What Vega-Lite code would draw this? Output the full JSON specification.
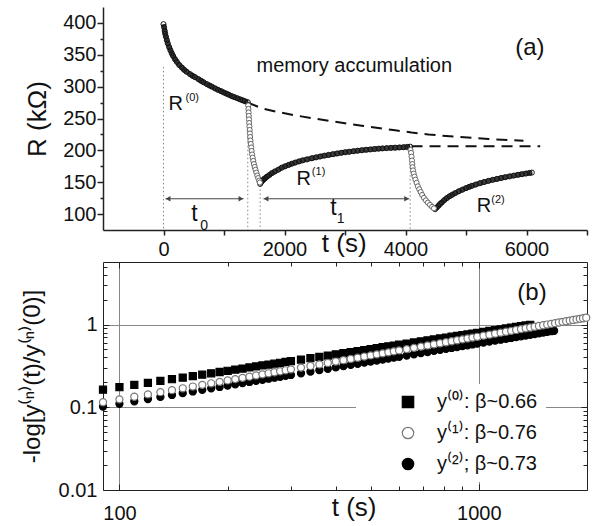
{
"$schema":"https://vega.github.io/schema/vega-lite/v6.json",
"background":"white",
"padding":{"left":20,"top":7,"right":0,"bottom":0},
"spacing":32,
"bounds":"flush",
"resolve":{"scale":{"shape":"independent","fill":"independent","stroke":"independent"},"legend":{"shape":"independent","fill":"independent","stroke":"independent"}},
"config":{
 "font":"Liberation Sans",
 "view":{"stroke":null},
 "axis":{"labelFont":"Liberation Sans","labelFontSize":20,"labelColor":"#111","domainColor":"#222","tickColor":"#222","titleFont":"Liberation Sans","titleColor":"#111","titleFontWeight":"normal","grid":false,"labelFlush":false,"labelOverlap":false},
 "text":{"font":"Liberation Sans","color":"#111"}
},
"datasets":{
 "curve":[
  {"t":0,"R":398,"seg":"0"},{"t":10,"R":393,"seg":"0"},{"t":20,"R":387.5,"seg":"0"},{"t":28,"R":383,"seg":"0"},{"t":40,"R":378.5,"seg":"0"},{"t":55,"R":373,"seg":"0"},{"t":70,"R":368,"seg":"0"},{"t":94,"R":362,"seg":"0"},{"t":115,"R":357,"seg":"0"},{"t":138,"R":352,"seg":"0"},{"t":160,"R":348,"seg":"0"},{"t":190,"R":343,"seg":"0"},{"t":220,"R":339,"seg":"0"},{"t":260,"R":334,"seg":"0"},{"t":303,"R":330,"seg":"0"},{"t":340,"R":326.5,"seg":"0"},{"t":380,"R":323.5,"seg":"0"},{"t":441,"R":319.5,"seg":"0"},{"t":480,"R":317,"seg":"0"},{"t":520,"R":315,"seg":"0"},{"t":579,"R":311.7,"seg":"0"},{"t":620,"R":309.2,"seg":"0"},{"t":660,"R":307,"seg":"0"},{"t":716,"R":304,"seg":"0"},{"t":760,"R":301.8,"seg":"0"},{"t":800,"R":300,"seg":"0"},{"t":854,"R":297.2,"seg":"0"},{"t":900,"R":295,"seg":"0"},{"t":950,"R":293,"seg":"0"},{"t":992,"R":291,"seg":"0"},{"t":1040,"R":289,"seg":"0"},{"t":1080,"R":287.3,"seg":"0"},{"t":1129,"R":285.1,"seg":"0"},{"t":1170,"R":283.6,"seg":"0"},{"t":1220,"R":281.8,"seg":"0"},{"t":1267,"R":280,"seg":"0"},{"t":1310,"R":278.5,"seg":"0"},{"t":1350,"R":277,"seg":"0"},{"t":1393,"R":275.5,"seg":"0"},
  {"t":1598,"R":147.4,"seg":"1"},{"t":1610,"R":149.5,"seg":"1"},{"t":1625,"R":151.5,"seg":"1"},{"t":1640,"R":153,"seg":"1"},{"t":1660,"R":154.8,"seg":"1"},{"t":1680,"R":156.3,"seg":"1"},{"t":1710,"R":158.7,"seg":"1"},{"t":1750,"R":161.3,"seg":"1"},{"t":1791,"R":164.2,"seg":"1"},{"t":1840,"R":166.8,"seg":"1"},{"t":1900,"R":169.8,"seg":"1"},{"t":1956,"R":172.9,"seg":"1"},{"t":2010,"R":175,"seg":"1"},{"t":2070,"R":177.2,"seg":"1"},{"t":2120,"R":179,"seg":"1"},{"t":2176,"R":180.8,"seg":"1"},{"t":2240,"R":182.6,"seg":"1"},{"t":2300,"R":184.3,"seg":"1"},{"t":2370,"R":185.8,"seg":"1"},{"t":2452,"R":187.6,"seg":"1"},{"t":2520,"R":189,"seg":"1"},{"t":2590,"R":190.4,"seg":"1"},{"t":2660,"R":191.7,"seg":"1"},{"t":2727,"R":192.8,"seg":"1"},{"t":2800,"R":194,"seg":"1"},{"t":2870,"R":195.1,"seg":"1"},{"t":2940,"R":196.1,"seg":"1"},{"t":3003,"R":197,"seg":"1"},{"t":3070,"R":197.8,"seg":"1"},{"t":3140,"R":198.7,"seg":"1"},{"t":3210,"R":199.5,"seg":"1"},{"t":3278,"R":200.2,"seg":"1"},{"t":3350,"R":200.9,"seg":"1"},{"t":3420,"R":201.5,"seg":"1"},{"t":3490,"R":202.1,"seg":"1"},{"t":3554,"R":202.7,"seg":"1"},{"t":3620,"R":203.1,"seg":"1"},{"t":3690,"R":203.5,"seg":"1"},{"t":3760,"R":203.9,"seg":"1"},{"t":3829,"R":204.2,"seg":"1"},{"t":3900,"R":204.6,"seg":"1"},{"t":3970,"R":205,"seg":"1"},{"t":4030,"R":205.4,"seg":"1"},{"t":4077,"R":205.8,"seg":"1"},
  {"t":4490,"R":107.8,"seg":"2"},{"t":4515,"R":110.2,"seg":"2"},{"t":4545,"R":113,"seg":"2"},{"t":4570,"R":115.7,"seg":"2"},{"t":4600,"R":118.2,"seg":"2"},{"t":4640,"R":121.8,"seg":"2"},{"t":4683,"R":125,"seg":"2"},{"t":4730,"R":128,"seg":"2"},{"t":4775,"R":130.5,"seg":"2"},{"t":4821,"R":132.9,"seg":"2"},{"t":4880,"R":135.7,"seg":"2"},{"t":4940,"R":138.3,"seg":"2"},{"t":5000,"R":140.7,"seg":"2"},{"t":5050,"R":142.6,"seg":"2"},{"t":5096,"R":144.3,"seg":"2"},{"t":5160,"R":146.3,"seg":"2"},{"t":5230,"R":148.4,"seg":"2"},{"t":5300,"R":150.3,"seg":"2"},{"t":5372,"R":152.1,"seg":"2"},{"t":5440,"R":153.7,"seg":"2"},{"t":5510,"R":155.1,"seg":"2"},{"t":5580,"R":156.6,"seg":"2"},{"t":5648,"R":157.9,"seg":"2"},{"t":5720,"R":159.2,"seg":"2"},{"t":5790,"R":160.4,"seg":"2"},{"t":5860,"R":161.6,"seg":"2"},{"t":5923,"R":162.6,"seg":"2"},{"t":5990,"R":163.6,"seg":"2"},{"t":6050,"R":164.5,"seg":"2"},{"t":6088,"R":165.1,"seg":"2"}
 ],
 "drop":[
  {"t":1400,"R":270.5},{"t":1404,"R":265},{"t":1407,"R":259.5},{"t":1410,"R":254},{"t":1413,"R":248.5},{"t":1416,"R":243},{"t":1420,"R":237.5},{"t":1424,"R":232},{"t":1428,"R":226.5},{"t":1432,"R":221},{"t":1437,"R":215.5},{"t":1443,"R":210},{"t":1450,"R":204.5},{"t":1457,"R":199},{"t":1465,"R":193.5},{"t":1474,"R":188.5},{"t":1484,"R":183.5},{"t":1495,"R":178.5},{"t":1507,"R":174},{"t":1520,"R":169.5},{"t":1535,"R":165},{"t":1550,"R":160.5},{"t":1565,"R":156.5},{"t":1580,"R":152.5},{"t":1592,"R":149.5},
  {"t":4083,"R":200.5},{"t":4092,"R":196},{"t":4100,"R":190},{"t":4107,"R":184},{"t":4112,"R":178.5},{"t":4117,"R":173.5},{"t":4125,"R":168.5},{"t":4136,"R":163.5},{"t":4149,"R":158.8},{"t":4165,"R":154},{"t":4184,"R":149},{"t":4204,"R":143.5},{"t":4227,"R":139},{"t":4250,"R":134.5},{"t":4275,"R":130},{"t":4305,"R":125.5},{"t":4337,"R":121.5},{"t":4370,"R":118},{"t":4405,"R":114.5},{"t":4440,"R":111.3},{"t":4470,"R":109}
 ],
 "dash":[
  {"t":1393,"R":275,"g":"u"},{"t":1625,"R":266,"g":"u"},{"t":1900,"R":260,"g":"u"},{"t":2176,"R":255,"g":"u"},{"t":2450,"R":250.5,"g":"u"},{"t":2727,"R":246.5,"g":"u"},{"t":3000,"R":242.5,"g":"u"},{"t":3278,"R":238.7,"g":"u"},{"t":3550,"R":235,"g":"u"},{"t":3829,"R":231.5,"g":"u"},{"t":4100,"R":228,"g":"u"},{"t":4380,"R":225,"g":"u"},{"t":4821,"R":221.4,"g":"u"},{"t":5372,"R":217.8,"g":"u"},{"t":5950,"R":215,"g":"u"},
  {"t":4100,"R":206.5,"g":"l"},{"t":6226,"R":206.5,"g":"l"}
 ],
 "vlines":[{"t":0,"R":331,"R2":75},{"t":1393,"R":270,"R2":75},{"t":1598,"R":145,"R2":75},{"t":4077,"R":205,"R2":75}],
 "arrows":[{"t":33,"t2":1322,"R":124},{"t":1653,"t2":4061,"R":124}],
 "headsL":[{"t":75,"R":124},{"t":1695,"R":124}],
 "headsR":[{"t":1280,"R":124},{"t":4019,"R":124}],
 "pts":[
  {"t":90,"v":0.163,"s":"a"},{"t":100,"v":0.1747,"s":"a"},{"t":110,"v":0.1861,"s":"a"},{"t":120,"v":0.1971,"s":"a"},{"t":130,"v":0.2078,"s":"a"},{"t":140,"v":0.2182,"s":"a"},{"t":150,"v":0.2284,"s":"a"},{"t":160,"v":0.2383,"s":"a"},{"t":170,"v":0.248,"s":"a"},{"t":180,"v":0.2576,"s":"a"},{"t":190,"v":0.2669,"s":"a"},{"t":200,"v":0.2761,"s":"a"},{"t":210,"v":0.2851,"s":"a"},{"t":220,"v":0.294,"s":"a"},{"t":230,"v":0.3028,"s":"a"},{"t":240,"v":0.3114,"s":"a"},{"t":250,"v":0.3199,"s":"a"},{"t":260,"v":0.3283,"s":"a"},{"t":270,"v":0.3366,"s":"a"},{"t":280,"v":0.3448,"s":"a"},{"t":290,"v":0.3528,"s":"a"},{"t":300,"v":0.3608,"s":"a"},{"t":320,"v":0.3765,"s":"a"},{"t":340,"v":0.3919,"s":"a"},{"t":360,"v":0.4069,"s":"a"},{"t":380,"v":0.4217,"s":"a"},{"t":400,"v":0.4363,"s":"a"},{"t":420,"v":0.4505,"s":"a"},{"t":440,"v":0.4646,"s":"a"},{"t":460,"v":0.4784,"s":"a"},{"t":480,"v":0.492,"s":"a"},{"t":500,"v":0.5055,"s":"a"},{"t":520,"v":0.5187,"s":"a"},{"t":540,"v":0.5318,"s":"a"},{"t":560,"v":0.5447,"s":"a"},{"t":580,"v":0.5575,"s":"a"},{"t":600,"v":0.5701,"s":"a"},{"t":630,"v":0.5888,"s":"a"},{"t":660,"v":0.6071,"s":"a"},{"t":690,"v":0.6252,"s":"a"},{"t":720,"v":0.643,"s":"a"},{"t":750,"v":0.6606,"s":"a"},{"t":780,"v":0.6779,"s":"a"},{"t":810,"v":0.695,"s":"a"},{"t":840,"v":0.7119,"s":"a"},{"t":870,"v":0.7286,"s":"a"},{"t":900,"v":0.7451,"s":"a"},{"t":930,"v":0.7614,"s":"a"},{"t":960,"v":0.7775,"s":"a"},{"t":990,"v":0.7935,"s":"a"},{"t":1030,"v":0.8145,"s":"a"},{"t":1070,"v":0.8352,"s":"a"},{"t":1110,"v":0.8557,"s":"a"},{"t":1150,"v":0.8759,"s":"a"},{"t":1190,"v":0.8959,"s":"a"},{"t":1230,"v":0.9157,"s":"a"},{"t":1270,"v":0.9352,"s":"a"},{"t":1310,"v":0.9546,"s":"a"},{"t":1350,"v":0.9737,"s":"a"},{"t":1390,"v":0.9926,"s":"a"},
  {"t":90,"v":0.102,"s":"c"},{"t":100,"v":0.1101,"s":"c"},{"t":110,"v":0.1181,"s":"c"},{"t":120,"v":0.1258,"s":"c"},{"t":130,"v":0.1334,"s":"c"},{"t":140,"v":0.1408,"s":"c"},{"t":150,"v":0.1481,"s":"c"},{"t":160,"v":0.1552,"s":"c"},{"t":170,"v":0.1623,"s":"c"},{"t":180,"v":0.1692,"s":"c"},{"t":190,"v":0.176,"s":"c"},{"t":200,"v":0.1827,"s":"c"},{"t":210,"v":0.1893,"s":"c"},{"t":220,"v":0.1959,"s":"c"},{"t":230,"v":0.2023,"s":"c"},{"t":240,"v":0.2087,"s":"c"},{"t":250,"v":0.215,"s":"c"},{"t":260,"v":0.2213,"s":"c"},{"t":270,"v":0.2275,"s":"c"},{"t":280,"v":0.2336,"s":"c"},{"t":290,"v":0.2396,"s":"c"},{"t":300,"v":0.2456,"s":"c"},{"t":320,"v":0.2575,"s":"c"},{"t":340,"v":0.2691,"s":"c"},{"t":360,"v":0.2806,"s":"c"},{"t":380,"v":0.2919,"s":"c"},{"t":400,"v":0.303,"s":"c"},{"t":420,"v":0.314,"s":"c"},{"t":440,"v":0.3249,"s":"c"},{"t":460,"v":0.3356,"s":"c"},{"t":480,"v":0.3462,"s":"c"},{"t":500,"v":0.3567,"s":"c"},{"t":520,"v":0.367,"s":"c"},{"t":540,"v":0.3773,"s":"c"},{"t":560,"v":0.3874,"s":"c"},{"t":580,"v":0.3975,"s":"c"},{"t":600,"v":0.4074,"s":"c"},{"t":630,"v":0.4222,"s":"c"},{"t":660,"v":0.4368,"s":"c"},{"t":690,"v":0.4512,"s":"c"},{"t":720,"v":0.4654,"s":"c"},{"t":750,"v":0.4795,"s":"c"},{"t":780,"v":0.4934,"s":"c"},{"t":810,"v":0.5072,"s":"c"},{"t":840,"v":0.5209,"s":"c"},{"t":870,"v":0.5344,"s":"c"},{"t":900,"v":0.5478,"s":"c"},{"t":930,"v":0.5611,"s":"c"},{"t":960,"v":0.5742,"s":"c"},{"t":990,"v":0.5872,"s":"c"},{"t":1030,"v":0.6045,"s":"c"},{"t":1070,"v":0.6215,"s":"c"},{"t":1110,"v":0.6384,"s":"c"},{"t":1150,"v":0.6551,"s":"c"},{"t":1190,"v":0.6717,"s":"c"},{"t":1230,"v":0.6881,"s":"c"},{"t":1270,"v":0.7044,"s":"c"},{"t":1310,"v":0.7205,"s":"c"},{"t":1350,"v":0.7365,"s":"c"},{"t":1390,"v":0.7523,"s":"c"},{"t":1430,"v":0.7681,"s":"c"},{"t":1470,"v":0.7837,"s":"c"},{"t":1510,"v":0.7992,"s":"c"},{"t":1550,"v":0.8146,"s":"c"},{"t":1590,"v":0.8299,"s":"c"},{"t":1620,"v":0.8413,"s":"c"},
  {"t":90,"v":0.115,"s":"b"},{"t":100,"v":0.1246,"s":"b"},{"t":110,"v":0.134,"s":"b"},{"t":120,"v":0.1431,"s":"b"},{"t":130,"v":0.1521,"s":"b"},{"t":140,"v":0.1609,"s":"b"},{"t":150,"v":0.1696,"s":"b"},{"t":160,"v":0.1781,"s":"b"},{"t":170,"v":0.1865,"s":"b"},{"t":180,"v":0.1948,"s":"b"},{"t":190,"v":0.2029,"s":"b"},{"t":200,"v":0.211,"s":"b"},{"t":210,"v":0.219,"s":"b"},{"t":220,"v":0.2268,"s":"b"},{"t":230,"v":0.2346,"s":"b"},{"t":240,"v":0.2424,"s":"b"},{"t":250,"v":0.25,"s":"b"},{"t":260,"v":0.2576,"s":"b"},{"t":270,"v":0.265,"s":"b"},{"t":280,"v":0.2725,"s":"b"},{"t":290,"v":0.2798,"s":"b"},{"t":300,"v":0.2871,"s":"b"},{"t":320,"v":0.3016,"s":"b"},{"t":340,"v":0.3158,"s":"b"},{"t":360,"v":0.3298,"s":"b"},{"t":380,"v":0.3436,"s":"b"},{"t":400,"v":0.3573,"s":"b"},{"t":420,"v":0.3708,"s":"b"},{"t":440,"v":0.3841,"s":"b"},{"t":460,"v":0.3973,"s":"b"},{"t":480,"v":0.4104,"s":"b"},{"t":500,"v":0.4233,"s":"b"},{"t":520,"v":0.4362,"s":"b"},{"t":540,"v":0.4489,"s":"b"},{"t":560,"v":0.4614,"s":"b"},{"t":580,"v":0.4739,"s":"b"},{"t":600,"v":0.4863,"s":"b"},{"t":630,"v":0.5046,"s":"b"},{"t":660,"v":0.5228,"s":"b"},{"t":690,"v":0.5408,"s":"b"},{"t":720,"v":0.5585,"s":"b"},{"t":750,"v":0.5761,"s":"b"},{"t":780,"v":0.5936,"s":"b"},{"t":810,"v":0.6108,"s":"b"},{"t":840,"v":0.6279,"s":"b"},{"t":870,"v":0.6449,"s":"b"},{"t":900,"v":0.6618,"s":"b"},{"t":930,"v":0.6785,"s":"b"},{"t":960,"v":0.695,"s":"b"},{"t":990,"v":0.7115,"s":"b"},{"t":1030,"v":0.7332,"s":"b"},{"t":1070,"v":0.7548,"s":"b"},{"t":1110,"v":0.7761,"s":"b"},{"t":1150,"v":0.7973,"s":"b"},{"t":1190,"v":0.8183,"s":"b"},{"t":1230,"v":0.8391,"s":"b"},{"t":1270,"v":0.8597,"s":"b"},{"t":1310,"v":0.8802,"s":"b"},{"t":1350,"v":0.9006,"s":"b"},{"t":1390,"v":0.9208,"s":"b"},{"t":1430,"v":0.9409,"s":"b"},{"t":1470,"v":0.9608,"s":"b"},{"t":1510,"v":0.9806,"s":"b"},{"t":1550,"v":1.0003,"s":"b"},{"t":1590,"v":1.0199,"s":"b"},{"t":1630,"v":1.0393,"s":"b"},{"t":1670,"v":1.0586,"s":"b"},{"t":1710,"v":1.0778,"s":"b"},{"t":1750,"v":1.0969,"s":"b"},{"t":1790,"v":1.1159,"s":"b"},{"t":1830,"v":1.1349,"s":"b"},{"t":1870,"v":1.1536,"s":"b"},{"t":1910,"v":1.1724,"s":"b"},{"t":1950,"v":1.191,"s":"b"},{"t":1990,"v":1.2095,"s":"b"}
 ]
},
"vconcat":[
 {
  "width":484,"height":223,
  "layer":[
   {"data":{"name":"curve"},
    "mark":{"type":"line","color":"#3a3a3a","strokeWidth":5},
    "encoding":{
     "x":{"field":"t","type":"quantitative","scale":{"domain":[-1000,7000],"nice":false,"zero":false},
      "axis":{"values":[0,1000,2000,3000,4000,5000,6000,7000],"tickCount":100,"format":"d","labelExpr":"datum.value % 2000 === 0 ? datum.label : ''","tickSize":5,"tickWidth":1.5,"domainWidth":1.5,"labelPadding":4,"title":null}},
     "y":{"field":"R","type":"quantitative","scale":{"domain":[75,425],"nice":false,"zero":false},
      "axis":{"values":[100,125,150,175,200,225,250,275,300,325,350,375,400],"tickCount":100,"format":"d","labelExpr":"datum.value % 50 === 0 ? datum.label : ''","tickSize":{"condition":{"test":"datum.value % 50 === 0","value":6},"value":3},"tickWidth":1.5,"domainWidth":1.5,"labelPadding":1,"title":"R (kΩ)","titleFontSize":26,"titlePadding":12}},
     "detail":{"field":"seg"}
    }},
   {"data":{"name":"vlines"},
    "mark":{"type":"rule","strokeDash":[1.5,2.5],"color":"#888","strokeWidth":1},
    "encoding":{"x":{"field":"t","type":"quantitative"},"y":{"field":"R","type":"quantitative"},"y2":{"field":"R2"}}},
   {"data":{"name":"dash"},
    "mark":{"type":"line","strokeDash":[11,7],"color":"#111","strokeWidth":2},
    "encoding":{"x":{"field":"t","type":"quantitative"},"y":{"field":"R","type":"quantitative"},"detail":{"field":"g"}}},
   {"data":{"name":"arrows"},
    "mark":{"type":"rule","color":"#444","strokeWidth":1},
    "encoding":{"x":{"field":"t","type":"quantitative"},"x2":{"field":"t2"},"y":{"field":"R","type":"quantitative"}}},
   {"data":{"name":"headsL"},
    "mark":{"type":"point","shape":"triangle-left","filled":true,"color":"#444","size":30,"opacity":1},
    "encoding":{"x":{"field":"t","type":"quantitative"},"y":{"field":"R","type":"quantitative"}}},
   {"data":{"name":"headsR"},
    "mark":{"type":"point","shape":"triangle-right","filled":true,"color":"#444","size":30,"opacity":1},
    "encoding":{"x":{"field":"t","type":"quantitative"},"y":{"field":"R","type":"quantitative"}}},
   {"data":{"name":"curve"},
    "mark":{"type":"point","shape":"circle","size":26,"filled":false,"stroke":"#111","strokeWidth":1,"opacity":1},
    "encoding":{"x":{"field":"t","type":"quantitative"},"y":{"field":"R","type":"quantitative"}}},
   {"data":{"name":"drop"},
    "mark":{"type":"point","shape":"circle","size":26,"fill":"white","stroke":"#666","strokeWidth":1,"opacity":1},
    "encoding":{"x":{"field":"t","type":"quantitative"},"y":{"field":"R","type":"quantitative"}}},
   {"data":{"values":[{"t":83,"R":263,"txt":"R"},{"t":2198,"R":145.9,"txt":"R"},{"t":5179,"R":104,"txt":"R"},{"t":1537,"R":323,"txt":"memory accumulation"}]},
    "mark":{"type":"text","fontSize":20,"align":"left","baseline":"alphabetic"},
    "encoding":{"x":{"field":"t","type":"quantitative"},"y":{"field":"R","type":"quantitative"},"text":{"field":"txt"}}},
   {"data":{"values":[{"t":364,"R":277,"txt":"(0)"},{"t":2452,"R":161.5,"txt":"(1)"},{"t":5417,"R":117.4,"txt":"(2)"}]},
    "mark":{"type":"text","fontSize":11,"align":"left","baseline":"alphabetic"},
    "encoding":{"x":{"field":"t","type":"quantitative"},"y":{"field":"R","type":"quantitative"},"text":{"field":"txt"}}},
   {"data":{"values":[{"t":458,"R":88.4,"txt":"t"},{"t":2755,"R":98.9,"txt":"t"}]},
    "mark":{"type":"text","fontSize":23,"align":"left","baseline":"alphabetic"},
    "encoding":{"x":{"field":"t","type":"quantitative"},"y":{"field":"R","type":"quantitative"},"text":{"field":"txt"}}},
   {"data":{"values":[{"t":607,"R":75.4,"txt":"0"},{"t":2865,"R":86.4,"txt":"1"}]},
    "mark":{"type":"text","fontSize":14,"align":"left","baseline":"alphabetic"},
    "encoding":{"x":{"field":"t","type":"quantitative"},"y":{"field":"R","type":"quantitative"},"text":{"field":"txt"}}},
   {"data":{"values":[{"t":5813,"R":349,"txt":"(a)"}]},
    "mark":{"type":"text","fontSize":24,"align":"left","baseline":"alphabetic"},
    "encoding":{"x":{"field":"t","type":"quantitative"},"y":{"field":"R","type":"quantitative"},"text":{"field":"txt"}}},
   {"data":{"values":[{"t":2617,"R":41,"txt":"t (s)"}]},
    "mark":{"type":"text","fontSize":26,"align":"left","baseline":"alphabetic"},
    "encoding":{"x":{"field":"t","type":"quantitative"},"y":{"field":"R","type":"quantitative"},"text":{"field":"txt"}}}
  ]
 },
 {
  "width":484,"height":228,
  "resolve":{"axis":{"x":"independent","y":"independent"}},
  "layer":[
   {"data":{"name":"pts"},
    "mark":{"type":"point","filled":true,"size":50,"strokeWidth":1.2,"opacity":1},
    "encoding":{
     "x":{"field":"t","type":"quantitative","scale":{"type":"log","domain":[90,2000],"nice":false},
      "axis":{"orient":"bottom","values":[100,200,300,400,500,600,700,800,900,1000],"tickCount":100,"format":"d","labelExpr":"datum.value === 100 || datum.value === 1000 ? datum.label : ''","tickSize":{"condition":{"test":"datum.value === 100 || datum.value === 1000","value":-6},"value":-4},"labelPadding":19,"grid":true,"gridColor":"#888","gridOpacity":{"condition":{"test":"datum.value === 100 || datum.value === 1000","value":1},"value":0},"title":null}},
     "y":{"field":"v","type":"quantitative","scale":{"type":"log","domain":[0.01,5.7],"nice":false},
      "axis":{"orient":"left","values":[0.01,0.02,0.03,0.04,0.05,0.06,0.07,0.08,0.09,0.1,0.2,0.3,0.4,0.5,0.6,0.7,0.8,0.9,1,2,3,4,5],"tickCount":100,"format":"~g","labelExpr":"datum.value === 0.01 || datum.value === 0.1 || datum.value === 1 ? datum.label : ''","tickSize":{"condition":{"test":"datum.value === 0.01 || datum.value === 0.1 || datum.value === 1","value":-6},"value":-4},"labelPadding":12,"grid":true,"gridColor":"#888","gridOpacity":{"condition":{"test":"datum.value === 0.1 || datum.value === 1","value":1},"value":0},"title":"-log[y⁽ⁿ⁾(t)/y⁽ⁿ⁾(0)]","titleFontSize":24,"titlePadding":14}},
     "shape":{"field":"s","type":"nominal","scale":{"domain":["a","b","c"],"range":["square","circle","circle"]},
      "legend":{"title":null,"orient":"none","legendX":253,"legendY":122,"padding":8,"fillColor":"white","labelFontSize":20,"labelFont":"Liberation Sans","labelColor":"#111","symbolSize":130,"symbolStrokeWidth":1.2,"rowPadding":11,"symbolOffset":34,"labelOffset":19,"labelLimit":400,"labelExpr":"datum.label === 'a' ? 'y⁽⁰⁾: β~0.66\u00a0\u00a0' : datum.label === 'b' ? 'y⁽¹⁾: β~0.76\u00a0\u00a0' : 'y⁽²⁾; β~0.73\u00a0\u00a0'"}},
     "fill":{"field":"s","type":"nominal","scale":{"domain":["a","b","c"],"range":["#000","#fff","#000"]},
      "legend":{"title":null,"orient":"none","legendX":253,"legendY":122,"padding":8,"fillColor":"white","labelFontSize":20,"labelFont":"Liberation Sans","labelColor":"#111","symbolSize":130,"symbolStrokeWidth":1.2,"rowPadding":11,"symbolOffset":34,"labelOffset":19,"labelLimit":400,"labelExpr":"datum.label === 'a' ? 'y⁽⁰⁾: β~0.66\u00a0\u00a0' : datum.label === 'b' ? 'y⁽¹⁾: β~0.76\u00a0\u00a0' : 'y⁽²⁾; β~0.73\u00a0\u00a0'"}},
     "stroke":{"field":"s","type":"nominal","scale":{"domain":["a","b","c"],"range":["#000","#777","#000"]},
      "legend":{"title":null,"orient":"none","legendX":253,"legendY":122,"padding":8,"fillColor":"white","labelFontSize":20,"labelFont":"Liberation Sans","labelColor":"#111","symbolSize":130,"symbolStrokeWidth":1.2,"rowPadding":11,"symbolOffset":34,"labelOffset":19,"labelLimit":400,"labelExpr":"datum.label === 'a' ? 'y⁽⁰⁾: β~0.66\u00a0\u00a0' : datum.label === 'b' ? 'y⁽¹⁾: β~0.76\u00a0\u00a0' : 'y⁽²⁾; β~0.73\u00a0\u00a0'"}}
    }},
   {"data":{"values":[{"t":1280,"v":2.0,"txt":"(b)"}]},
    "mark":{"type":"text","fontSize":24,"align":"left","baseline":"alphabetic"},
    "encoding":{
     "x":{"field":"t","type":"quantitative","scale":{"type":"log","domain":[90,2000],"nice":false},
      "axis":{"orient":"top","values":[100,200,300,400,500,600,700,800,900,1000],"tickCount":100,"labels":false,"tickSize":{"condition":{"test":"datum.value === 100 || datum.value === 1000","value":-6},"value":-4},"title":null}},
     "y":{"field":"v","type":"quantitative","scale":{"type":"log","domain":[0.01,5.7],"nice":false},
      "axis":{"orient":"right","values":[0.01,0.02,0.03,0.04,0.05,0.06,0.07,0.08,0.09,0.1,0.2,0.3,0.4,0.5,0.6,0.7,0.8,0.9,1,2,3,4,5],"tickCount":100,"labels":false,"tickSize":{"condition":{"test":"datum.value === 0.01 || datum.value === 0.1 || datum.value === 1","value":-6},"value":-4},"title":null}},
     "text":{"field":"txt"}}},
   {"data":{"values":[{"t":389.6,"v":0.0048,"txt":"t (s)"}]},
    "mark":{"type":"text","fontSize":26,"align":"left","baseline":"alphabetic"},
    "encoding":{
     "x":{"field":"t","type":"quantitative","scale":{"type":"log","domain":[90,2000],"nice":false},"axis":null},
     "y":{"field":"v","type":"quantitative","scale":{"type":"log","domain":[0.01,5.7],"nice":false},"axis":null},
     "text":{"field":"txt"}}}
  ]
 }
]
}
